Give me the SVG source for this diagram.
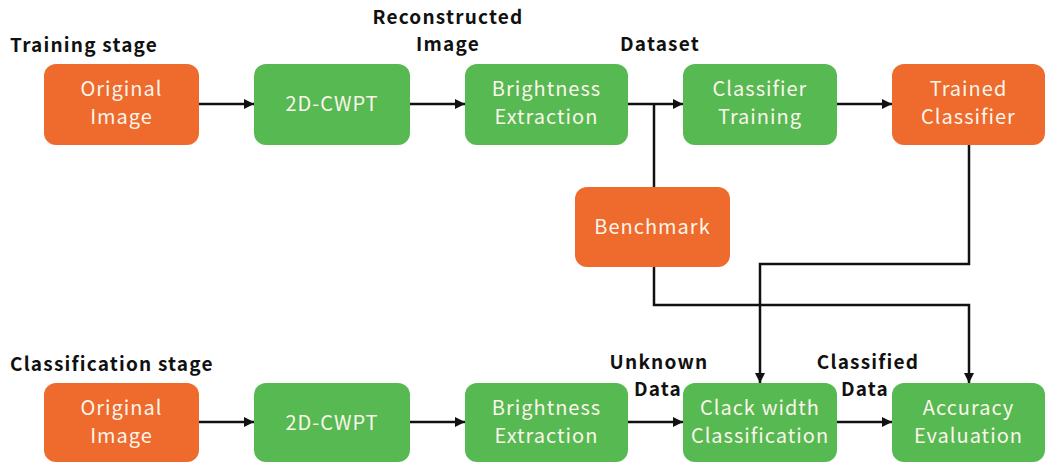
<svg xmlns="http://www.w3.org/2000/svg" width="1055" height="464" viewBox="0 0 1055 464">
<defs>
<style>
.o{fill:#EE6A2D}
.g{fill:#56B952}
.bt{font-family:"Noto Sans CJK JP","Noto Sans",sans-serif;font-size:20px;letter-spacing:1px;fill:#FBF5EA;text-anchor:middle}
.lb{font-family:"Noto Sans CJK JP","Noto Sans",sans-serif;font-size:19px;letter-spacing:1.2px;font-weight:bold;fill:#111}
.c{fill:none;stroke:#111;stroke-width:2.5}
</style>
<marker id="ah" viewBox="0 0 10 10" refX="10" refY="5" markerWidth="4" markerHeight="4" orient="auto" markerUnits="strokeWidth">
<path d="M0,0 L10,5 L0,10 z" fill="#111"/>
</marker>
</defs>
<rect width="1055" height="464" fill="#fff"/>
<g id="labels">
<text class="lb" x="10" y="52">Training stage</text>
<text class="lb" x="448" y="24" text-anchor="middle">Reconstructed</text>
<text class="lb" x="448" y="51" text-anchor="middle">Image</text>
<text class="lb" x="660" y="51" text-anchor="middle">Dataset</text>
<text class="lb" x="10" y="371">Classification stage</text>
<text class="lb" x="659" y="369" text-anchor="middle">Unknown</text>
<text class="lb" x="658" y="396" text-anchor="middle">Data</text>
<text class="lb" x="868" y="369" text-anchor="middle">Classified</text>
<text class="lb" x="865" y="396" text-anchor="middle">Data</text>
</g>
<g id="connectors">
<line class="c" x1="199" y1="104" x2="254" y2="104" marker-end="url(#ah)"/>
<line class="c" x1="410" y1="104" x2="465" y2="104" marker-end="url(#ah)"/>
<line class="c" x1="628" y1="104" x2="683" y2="104" marker-end="url(#ah)"/>
<line class="c" x1="654" y1="104" x2="654" y2="187"/>
<line class="c" x1="837" y1="104" x2="892" y2="104" marker-end="url(#ah)"/>
<polyline class="c" points="969,145 969,264 760,264 760,383" marker-end="url(#ah)"/>
<polyline class="c" points="654,267 654,305 969,305 969,383" marker-end="url(#ah)"/>
<line class="c" x1="199" y1="422" x2="254" y2="422" marker-end="url(#ah)"/>
<line class="c" x1="410" y1="422" x2="465" y2="422" marker-end="url(#ah)"/>
<line class="c" x1="628" y1="422" x2="683" y2="422" marker-end="url(#ah)"/>
<line class="c" x1="837" y1="422" x2="892" y2="422" marker-end="url(#ah)"/>
</g>
<g id="t1"><rect class="o" x="44" y="64" width="155" height="81" rx="12"/><text class="bt" x="121.5" y="96">Original</text><text class="bt" x="121.5" y="124">Image</text></g>
<g id="t2"><rect class="g" x="254" y="64" width="156" height="81" rx="12"/><text class="bt" x="332" y="111">2D-CWPT</text></g>
<g id="t3"><rect class="g" x="465" y="64" width="163" height="81" rx="12"/><text class="bt" x="546.5" y="96">Brightness</text><text class="bt" x="546.5" y="124">Extraction</text></g>
<g id="t4"><rect class="g" x="683" y="64" width="154" height="81" rx="12"/><text class="bt" x="760" y="96">Classifier</text><text class="bt" x="760" y="124">Training</text></g>
<g id="t5"><rect class="o" x="892" y="64" width="153" height="81" rx="12"/><text class="bt" x="968.5" y="96">Trained</text><text class="bt" x="968.5" y="124">Classifier</text></g>
<g id="bench"><rect class="o" x="575" y="187" width="155" height="80" rx="12"/><text class="bt" x="652.5" y="234">Benchmark</text></g>
<g id="c1"><rect class="o" x="44" y="383" width="155" height="79" rx="12"/><text class="bt" x="121.5" y="415">Original</text><text class="bt" x="121.5" y="443">Image</text></g>
<g id="c2"><rect class="g" x="254" y="383" width="156" height="79" rx="12"/><text class="bt" x="332" y="430">2D-CWPT</text></g>
<g id="c3"><rect class="g" x="465" y="383" width="163" height="79" rx="12"/><text class="bt" x="546.5" y="415">Brightness</text><text class="bt" x="546.5" y="443">Extraction</text></g>
<g id="c4"><rect class="g" x="683" y="383" width="154" height="79" rx="12"/><text class="bt" x="760" y="415">Clack width</text><text class="bt" x="760" y="443">Classification</text></g>
<g id="c5"><rect class="g" x="892" y="383" width="153" height="79" rx="12"/><text class="bt" x="968.5" y="415">Accuracy</text><text class="bt" x="968.5" y="443">Evaluation</text></g>
</svg>
